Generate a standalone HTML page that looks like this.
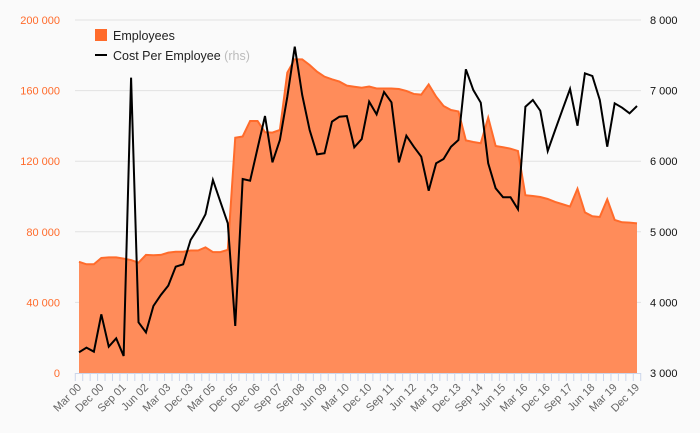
<!DOCTYPE html>
<html><head><meta charset="utf-8"><style>
body{margin:0;background:#fafafa;font-family:"Liberation Sans",sans-serif}
svg{display:block}
</style></head><body>
<svg id="c" width="700" height="433">
<rect width="700" height="433" fill="#fafafa"/>
<g id="grid"></g><g id="area"></g><g id="line"></g><g id="axes"></g>
<g>
<rect x="95" y="29" width="12" height="12" fill="#ff6b2b"/>
<text x="113" y="40" font-size="12.5" fill="#222">Employees</text>
<rect x="95" y="54" width="12" height="2" fill="#000"/>
<text x="113" y="60" font-size="12.5" fill="#222">Cost Per Employee <tspan fill="#bbb">(rhs)</tspan></text>
</g>
</svg>
<script>
const tickLabels=["Mar 00","Dec 00","Sep 01","Jun 02","Mar 03","Dec 03","Mar 05","Dec 05","Dec 06","Sep 07","Sep 08","Jun 09","Mar 10","Dec 10","Sep 11","Jun 12","Mar 13","Dec 13","Sep 14","Jun 15","Mar 16","Dec 16","Sep 17","Jun 18","Mar 19","Dec 19"];
const employees=[63000,61600,61600,65200,65500,65500,64800,64000,62500,66900,66700,66900,68200,68700,68700,69400,69400,71200,68500,68500,69800,133300,134000,142800,142800,136400,136200,137700,170200,177700,177700,174500,170700,167900,166400,165100,162800,162200,161600,162300,161200,161200,161200,160900,159800,158100,157700,163500,156600,151300,149000,148200,131800,130900,130200,144700,128600,127900,127100,125800,100700,100300,99700,98600,96900,95600,94300,104400,91000,88800,88400,98400,86700,85400,85200,84800];
const cost=[3293,3359,3302,3831,3373,3491,3241,7183,3718,3576,3949,4105,4237,4506,4540,4884,5049,5248,5734,5427,5120,3666,5748,5724,6183,6640,5984,6300,6914,7622,6938,6442,6097,6112,6560,6630,6640,6197,6314,6843,6664,6980,6834,5984,6361,6205,6064,5582,5970,6031,6205,6300,7302,7008,6829,5970,5616,5489,5489,5319,6772,6867,6715,6144,6442,6735,7023,6503,7245,7207,6867,6205,6820,6758,6678,6782];
const leftTicks=[0,40000,80000,120000,160000,200000];
const rightTicks=[3000,4000,5000,6000,7000,8000];
const NS="http://www.w3.org/2000/svg";
const x0=79,x1=637,yB=373,yT=20;
const n=employees.length;
const xs=i=>x0+(x1-x0)*i/(n-1);
const yL=v=>yB-(v/200000)*(yB-yT);
const yR=v=>yB-((v-3000)/5000)*(yB-yT);
function mk(tag,attrs,parent){const e=document.createElementNS(NS,tag);for(const k in attrs)e.setAttribute(k,attrs[k]);parent.appendChild(e);return e;}
const grid=document.getElementById('grid'),axes=document.getElementById('axes');
leftTicks.forEach((t,i)=>{
  if(t>0){const g=mk('line',{x1:75,x2:641,y1:yL(t),y2:yL(t),stroke:'#e2e2e2','stroke-width':1},grid);
  
  }
  const l=mk('text',{x:60,y:yL(t)+4,'text-anchor':'end','font-size':11,fill:'#ff6b2b'},axes);
  l.textContent=t===0?'0':(t/1000)+' 000';
  
  
});
rightTicks.forEach(t=>{
  const l=mk('text',{x:650,y:yR(t)+4,'font-size':11,fill:'#111'},axes);
  l.textContent=(t/1000)+' 000';
  
  
});
let d='M'+xs(0)+','+yB;
employees.forEach((v,i)=>d+=' L'+xs(i)+','+yL(v));
d+=' L'+xs(n-1)+','+yB+' Z';
const a=mk('path',{d:d,fill:'#ff8c5a'},document.getElementById('area'));


const ae=mk('polyline',{points:employees.map((v,i)=>xs(i)+','+yL(v)).join(' '),fill:'none',stroke:'#ff6b2b','stroke-width':2},document.getElementById('area'));


const ln=mk('polyline',{points:cost.map((v,i)=>xs(i)+','+yR(v)).join(' '),fill:'none',stroke:'#000','stroke-width':2,'stroke-linejoin':'miter'},document.getElementById('line'));


const ax=mk('line',{x1:75,x2:641,y1:yB+0.5,y2:yB+0.5,stroke:'#ccd6eb'},axes);


const st=(x1-x0)/(n-1);
for(let i=0;i<=n;i++){const xx=x0-st/2+st*i;
  const tk=mk('line',{x1:xx,x2:xx,y1:yB,y2:yB+8,stroke:'#ccd6eb'},axes);
  
  }
tickLabels.forEach((s,k)=>{
  const xx=xs(k*3),yy=yB+15;
  const l=mk('text',{x:xx+3,y:yy,'text-anchor':'end','font-size':11,fill:'#666',transform:'rotate(-45 '+(xx+3)+' '+yy+')'},axes);
  l.textContent=s;
  
  
});
</script>
</body></html>
